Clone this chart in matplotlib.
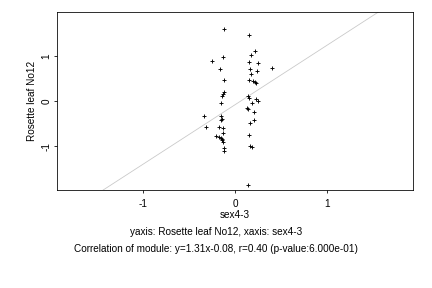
import numpy as np
import matplotlib
matplotlib.use("Agg")
import matplotlib.pyplot as plt

# ---- datos ----
x_vals = [-0.119, 0.154, 0.219, 0.176, -0.250, -0.130, 0.154, 0.252, -0.162, 0.165,
          0.241, 0.176, -0.119, 0.154, 0.197, 0.219, 0.230, -0.119, -0.130, -0.141,
          -0.152, 0.143, 0.154, 0.230, 0.252, 0.186, -0.337, -0.152, -0.141, -0.152,
          0.132, 0.143, 0.210, 0.210, 0.165, -0.311, -0.171, -0.130, -0.130, -0.206,
          -0.171, -0.158, -0.147, -0.137, -0.128, -0.119, -0.119, 0.154, 0.165, 0.186,
          0.143, 0.405]
y_vals = [1.593, 1.460, 1.111, 1.016, 0.882, 0.971, 0.860, 0.838, 0.704, 0.704,
          0.660, 0.593, 0.460, 0.460, 0.451, 0.422, 0.393, 0.193, 0.156, 0.104,
          -0.051, 0.104, 0.060, 0.038, 0.000, -0.051, -0.318, -0.333, -0.384, -0.407,
          -0.162, -0.184, -0.244, -0.422, -0.473, -0.562, -0.562, -0.584, -0.696, -0.762,
          -0.793, -0.822, -0.844, -0.867, -0.896, -1.029, -1.111, -0.740, -0.984, -1.022,
          -1.851, 0.733]

slope = 1.31
intercept = -0.08
x_ticks = [-1, 0, 1]
y_ticks = [-1, 0, 1]

x_name = "sex4-3"
y_name = "Rosette leaf No12"
caption1 = "yaxis: Rosette leaf No12, xaxis: sex4-3"
caption2 = "Correlation of module: y=1.31x-0.08, r=0.40 (p-value:6.000e-01)"

plt.rcParams["font.family"] = ["Liberation Sans", "DejaVu Sans"]
plt.rcParams["font.size"] = 10

fig = plt.figure(figsize=(6, 4), dpi=72)
ax = fig.add_axes([0.1326, 0.3403, 0.8227, 0.617])

# linea de regresion
xl = np.array([-3.0, 3.0])
ax.plot(xl, slope * xl + intercept, color="#c8c8c8", lw=0.8, zorder=1)

# puntos
ax.scatter(x_vals, y_vals, marker="+", s=20, color="black", linewidths=0.9, zorder=2)

ax.set_xlim(-1.94, 1.94)
ax.set_ylim(-1.965, 1.965)
ax.set_xticks(x_ticks)
ax.set_yticks(y_ticks)
ax.set_xticklabels([str(t) for t in x_ticks])
ax.set_yticklabels([str(t) for t in y_ticks], rotation=90, va="center")
ax.tick_params(axis="x", direction="out", length=3, width=0.8, pad=6)
ax.tick_params(axis="y", direction="out", length=3, width=0.8, pad=3)

for s in ax.spines.values():
    s.set_linewidth(0.8)
    s.set_color("black")

ax.set_xlabel(x_name, labelpad=1)
ax.set_ylabel(y_name, labelpad=4)

fig.text(0.5, 1 - 232 / 288, caption1, ha="center", va="center")
fig.text(0.5, 1 - 248.5 / 288, caption2, ha="center", va="center")

fig.savefig("out.png", dpi=72)
